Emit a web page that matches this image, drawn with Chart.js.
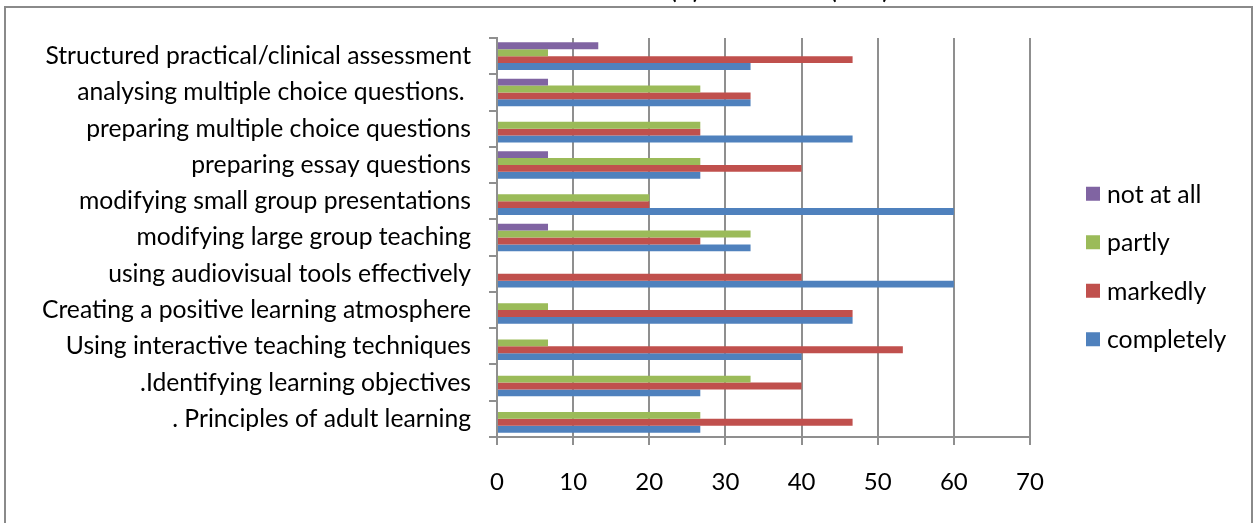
<!DOCTYPE html>
<html>
<head>
<meta charset="utf-8">
<script src="https://cdn.jsdelivr.net/npm/chart.js@4.4.0/dist/chart.umd.min.js"></script>
<style>
  html, body { margin: 0; padding: 0; background: #fff; }
  #wrap { width: 1254px; height: 523px; position: relative; }
</style>
</head>
<body>
<div id="wrap"><canvas id="c" width="1254" height="523"></canvas></div>
<script>
// Skills, top to bottom as listed on the axis
const categories = [
  "Structured practical/clinical assessment",
  "analysing multiple choice questions. ",
  "preparing multiple choice questions",
  "preparing essay questions",
  "modifying small group presentations",
  "modifying large group teaching",
  "using audiovisual tools effectively",
  "Creating a positive learning atmosphere",
  "Using interactive teaching techniques",
  ".Identifying learning objectives",
  ". Principles of adult learning"
];

// Percentage of respondents per answer
const notAtAll   = [13.3, 6.7, 0, 6.7, 0, 6.7, 0, 0, 0, 0, 0];
const partly     = [6.7, 26.7, 26.7, 26.7, 20, 33.3, 0, 6.7, 6.7, 33.3, 26.7];
const markedly   = [46.7, 33.3, 26.7, 40, 20, 26.7, 40, 46.7, 53.3, 40, 46.7];
const completely = [33.3, 33.3, 46.7, 26.7, 60, 33.3, 60, 46.7, 40, 26.7, 26.7];

const xTicks = [0, 10, 20, 30, 40, 50, 60, 70];
const titleParts = ["(%)", "(n=15)"];

const FONT = "Lato, 'Open Sans', sans-serif";
const GRID = "#8f8f8f";

// Outer frame, the clipped title and the legend are drawn by hand
const decorations = {
  id: "decorations",
  afterDraw(chart) {
    const ctx = chart.ctx;
    const area = chart.chartArea;
    ctx.save();
    // frame
    ctx.strokeStyle = "#8a8a8a";
    ctx.lineWidth = 2;
    ctx.strokeRect(5, 7, 1247, 540);
    // title (mostly above the visible page)
    ctx.fillStyle = "#000";
    ctx.font = "bold 20px " + FONT;
    ctx.textBaseline = "alphabetic";
    ctx.textAlign = "left";
    ctx.fillText(titleParts[0], 671, -1);
    ctx.fillText(titleParts[1], 831, -1);
    // legend
    const items = chart.data.datasets;
    const step = 48.5;
    const y0 = (area.top + area.bottom) / 2 + 29 - step * (items.length - 1) / 2;
    ctx.font = "24.8px " + FONT;
    ctx.textBaseline = "middle";
    items.forEach((ds, i) => {
      const y = y0 + i * step;
      ctx.fillStyle = ds.backgroundColor;
      ctx.fillRect(1086, y - 7, 14, 14);
      ctx.fillStyle = "#000";
      ctx.fillText(ds.label, 1107, y + 1);
    });
    ctx.restore();
  }
};

new Chart(document.getElementById("c"), {
  type: "bar",
  data: {
    labels: categories,
    datasets: [
      { label: "not at all", data: notAtAll, backgroundColor: "#8064A2" },
      { label: "partly", data: partly, backgroundColor: "#9BBB59" },
      { label: "markedly", data: markedly, backgroundColor: "#C0504D" },
      { label: "completely", data: completely, backgroundColor: "#4F81BD" }
    ]
  },
  options: {
    indexAxis: "y",
    responsive: false,
    animation: false,
    devicePixelRatio: 1,
    layout: { padding: { top: 38, right: 224, left: 0, bottom: 0 } },
    datasets: { bar: { categoryPercentage: 0.76, barPercentage: 1.0 } },
    plugins: {
      legend: { display: false },
      tooltip: { enabled: false },
      title: { display: false }
    },
    scales: {
      x: {
        min: 0, max: 70,
        afterBuildTicks(scale) { scale.ticks = xTicks.map(v => ({ value: v })); },
        afterFit(scale) { scale.height = 86; },
        grid: { color: GRID, lineWidth: 2, tickLength: 8, drawTicks: true },
        border: { color: GRID, width: 2 },
        ticks: { color: "#000", font: { family: FONT, size: 24 }, padding: 23 }
      },
      y: {
        afterFit(scale) { scale.width = 497; },
        grid: { drawOnChartArea: false, drawTicks: true, tickLength: 8, offset: true, color: GRID, lineWidth: 2 },
        border: { color: GRID, width: 2 },
        ticks: { color: "#000", font: { family: FONT, size: 24.7 }, padding: 18, autoSkip: false }
      }
    }
  },
  plugins: [decorations]
});
</script>
</body>
</html>
